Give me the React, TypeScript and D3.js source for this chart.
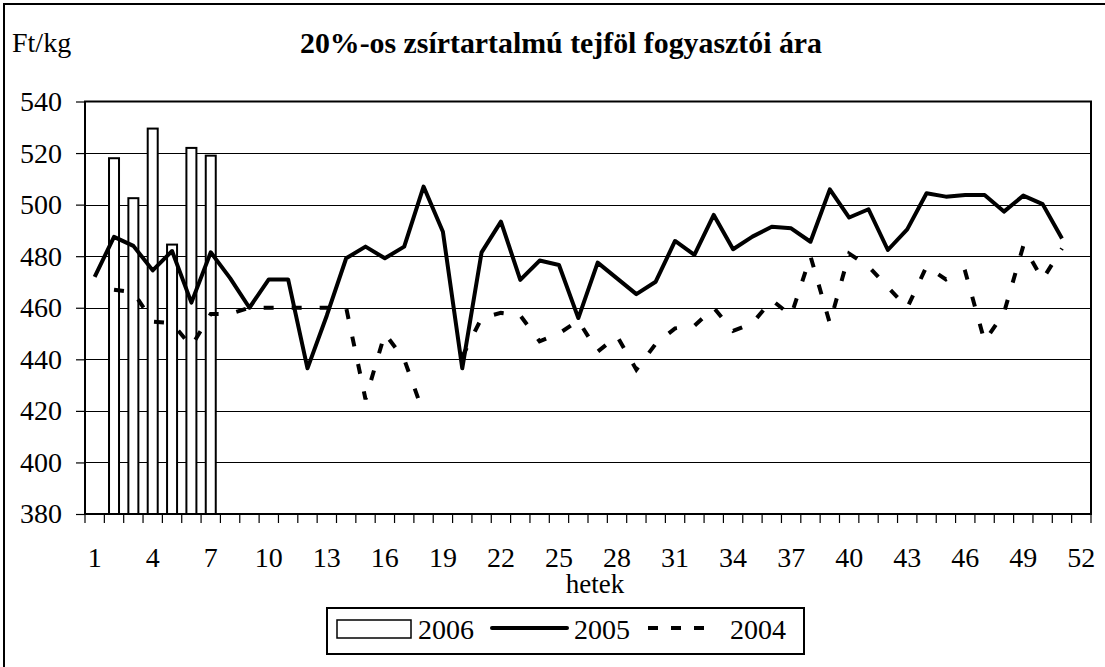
import { useRef, useEffect } from 'react';
import * as d3 from 'd3';

const weeks: number[] = d3.range(1, 53);
const xTickLabels = ['1', '4', '7', '10', '13', '16', '19', '22', '25', '28', '31', '34', '37', '40', '43', '46', '49', '52'];
const yTicks = [380, 400, 420, 440, 460, 480, 500, 520, 540];

// 2006: only weeks 2-7
const prices2006: (number | null)[] = [null, 518, 502.5, 529.5, 484.5, 522, 519];

const prices2005: number[] = [
  472, 487.5, 484, 474.5, 482, 462, 481.5, 471.5, 460, 471,
  471, 436.5, 457, 479.2, 483.7, 479.2, 483.7, 507, 489.5, 436.5,
  481.5, 493.4, 470.8, 478.3, 476.6, 456, 477.5, 471.4, 465.3, 470.1,
  485.9, 480.5, 496, 482.7, 487.6, 491.4, 490.8, 485.6, 505.9, 495,
  498.2, 482.4, 490.4, 504.4, 503.1, 503.7, 503.7, 497.3, 503.5, 500.2,
  486.9,
];

const prices2004: (number | null)[] = [
  null, 467, 466, 454.6, 454, 445, 457.6, 457.6, 460, 460,
  460, 460, 460, 460, 424.5, 450, 440, 419, null, 441,
  456, 458, 457, 447, 450, 455, 443, 449, 436, 446,
  452, 453, 460, 451, 454, 463, 457, 480, 454, 481,
  476, 468, 460, 476, 471, 474, 447, 458, 484, 471,
  483,
];

const W = 1105;
const H = 667;
const M = { left: 85, right: 1091, top: 101.5, bottom: 514 };
const FONT = '"Liberation Serif", "Times New Roman", serif';

export default function App() {
  const svgRef = useRef<SVGSVGElement>(null);

  useEffect(() => {
    if (!svgRef.current) return;
    const svg = d3.select(svgRef.current);
    svg.selectAll('*').remove();

    const x = d3.scaleBand<number>().domain(weeks).range([M.left, M.right]).paddingInner(0).paddingOuter(0);
    const y = d3.scaleLinear().domain([380, 540]).range([M.bottom, M.top]);
    const cx = (w: number) => (x(w) as number) + x.bandwidth() / 2;

    // outer frame (only left and top visible in the original)
    svg.append('rect')
      .attr('x', 4).attr('y', 4).attr('width', W + 20).attr('height', H + 20)
      .attr('fill', 'none').attr('stroke', '#000').attr('stroke-width', 2);

    // title + unit
    svg.append('text')
      .attr('x', 561).attr('y', 53)
      .attr('text-anchor', 'middle')
      .attr('font-family', FONT).attr('font-weight', 'bold').attr('font-size', 29)
      .attr('textLength', 522).attr('lengthAdjust', 'spacingAndGlyphs')
      .text('20%-os zsírtartalmú tejföl fogyasztói ára');
    svg.append('text')
      .attr('x', 12).attr('y', 52)
      .attr('font-family', FONT).attr('font-size', 28)
      .text('Ft/kg');

    // gridlines
    svg.append('g').selectAll('line').data(yTicks.slice(1, -1)).join('line')
      .attr('x1', M.left).attr('x2', M.right)
      .attr('y1', d => Math.round(y(d)) + 0.5).attr('y2', d => Math.round(y(d)) + 0.5)
      .attr('stroke', '#000').attr('stroke-width', 1);

    // y axis
    const yAxis = svg.append('g').attr('transform', `translate(${M.left},0)`)
      .call(d3.axisLeft(y).tickValues(yTicks).tickSize(9).tickPadding(14).tickFormat(d3.format('d')));
    yAxis.attr('font-family', FONT);
    yAxis.select('.domain').remove();
    yAxis.selectAll('line').attr('stroke', '#000').attr('stroke-width', 1.2);
    yAxis.selectAll('text').attr('font-family', FONT).attr('font-size', 28).attr('fill', '#000').attr('dy', '0.32em');

    // x axis ticks at category boundaries
    const bounds = d3.range(weeks.length + 1).map(i => M.left + i * x.step());
    svg.append('g').selectAll('line').data(bounds).join('line')
      .attr('x1', d => d).attr('x2', d => d)
      .attr('y1', M.bottom).attr('y2', M.bottom + 9)
      .attr('stroke', '#000').attr('stroke-width', 1.2);
    svg.append('g').selectAll('text').data(xTickLabels).join('text')
      .attr('x', d => cx(+d)).attr('y', 567)
      .attr('text-anchor', 'middle')
      .attr('font-family', FONT).attr('font-size', 28)
      .text(d => d);
    svg.append('text')
      .attr('x', 595).attr('y', 593)
      .attr('text-anchor', 'middle')
      .attr('font-family', FONT).attr('font-size', 27)
      .text('hetek');

    // 2006 bars
    const bw = 10;
    svg.append('g').selectAll('rect')
      .data(prices2006.map((v, i) => ({ w: weeks[i], v })).filter(d => d.v !== null))
      .join('rect')
      .attr('x', d => cx(d.w) - bw / 2)
      .attr('y', d => y(d.v as number))
      .attr('width', bw)
      .attr('height', d => y(380) - y(d.v as number))
      .attr('fill', '#fff').attr('stroke', '#000').attr('stroke-width', 2);

    // 2004 dashed line
    const line = d3.line<number | null>()
      .defined(d => d !== null)
      .x((_, i) => cx(weeks[i]))
      .y(d => y(d as number));
    svg.append('path')
      .datum(prices2004)
      .attr('fill', 'none').attr('stroke', '#000').attr('stroke-width', 4)
      .attr('stroke-dasharray', '10 18')
      .attr('d', line);

    // 2005 line
    svg.append('path')
      .datum(prices2005 as (number | null)[])
      .attr('fill', 'none').attr('stroke', '#000').attr('stroke-width', 4)
      .attr('stroke-linejoin', 'round')
      .attr('d', line);

    // plot frame
    svg.append('rect')
      .attr('x', M.left).attr('y', M.top)
      .attr('width', M.right - M.left).attr('height', M.bottom - M.top)
      .attr('fill', 'none').attr('stroke', '#000').attr('stroke-width', 2);

    // legend
    const lg = svg.append('g');
    lg.append('rect').attr('x', 327).attr('y', 608).attr('width', 477).attr('height', 46)
      .attr('fill', '#fff').attr('stroke', '#000').attr('stroke-width', 2);
    lg.append('rect').attr('x', 337).attr('y', 620).attr('width', 74).attr('height', 18)
      .attr('fill', '#fff').attr('stroke', '#000').attr('stroke-width', 1.5);
    lg.append('line').attr('x1', 492).attr('x2', 567).attr('y1', 628).attr('y2', 628)
      .attr('stroke', '#000').attr('stroke-width', 4).attr('stroke-linecap', 'round');
    lg.append('line').attr('x1', 648).attr('x2', 716).attr('y1', 628).attr('y2', 628)
      .attr('stroke', '#000').attr('stroke-width', 4).attr('stroke-dasharray', '10 13');
    const legendLabels = [
      { t: '2006', x: 418 },
      { t: '2005', x: 574 },
      { t: '2004', x: 730 },
    ];
    lg.selectAll('text.lbl').data(legendLabels).join('text')
      .attr('class', 'lbl')
      .attr('x', d => d.x).attr('y', 639)
      .attr('font-family', FONT).attr('font-size', 28)
      .text(d => d.t);
  }, []);

  return (
    <div style={{ position: 'absolute', left: 0, top: 0 }}>
      <svg ref={svgRef} width={W} height={H} style={{ display: 'block', background: '#fff' }} />
    </div>
  );
}
